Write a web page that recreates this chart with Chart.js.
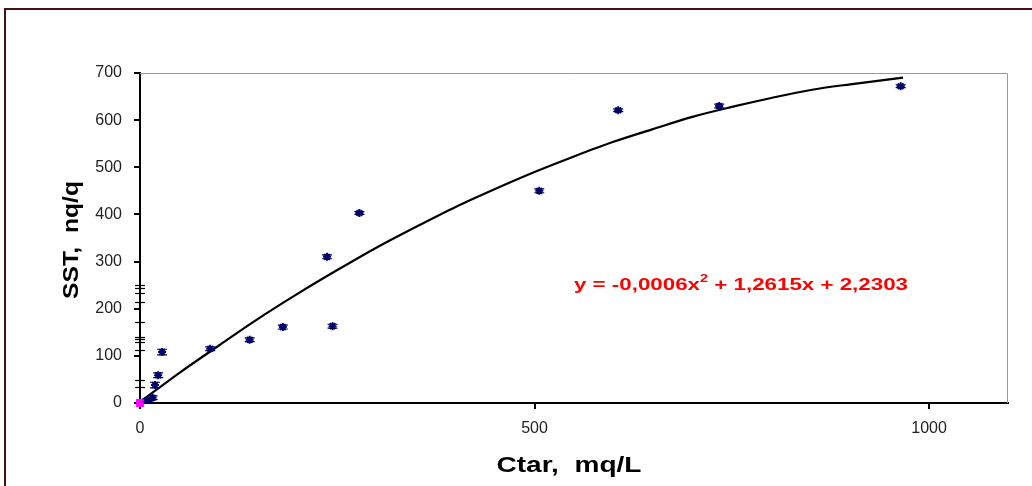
<!DOCTYPE html>
<html>
<head>
<meta charset="utf-8">
<script src="https://cdn.jsdelivr.net/npm/chart.js@4.4.0/dist/chart.umd.min.js"></script>
<style>
  html, body { margin: 0; padding: 0; background: #ffffff; }
  #wrap { width: 1032px; height: 486px; position: relative; }
  canvas { display: block; }
</style>
</head>
<body>
<div id="wrap"><canvas id="c" width="1032" height="486"></canvas></div>
<script>
// ---- data ----
const ctar = [964, 734, 606, 506, 278, 237, 244, 181, 139, 89, 28, 23, 19, 16, 9];
const sst  = [672, 630, 621, 450, 403, 310, 163, 161, 134, 115, 108, 59, 38, 11, 6];
const sstErr = [3, 4, 3, 4, 3, 4, 4, 4, 4, 4, 6, 5, 6, 4, 3];

// error-bar caps drawn on the value axis (points at Ctar ~ 0)
const zeroCaps = [250, 244, 233, 214, 172, 140, 136, 130, 112, 49, 34];

const originX = [0];
const originY = [0];

// trend line
const trendX = [0, 50, 100, 150, 200, 250, 300, 350, 400, 450, 500, 550, 600, 650, 700, 750, 800, 850, 900, 967];
const trendY = [2, 64, 122, 179, 232, 282, 330, 374, 416, 454, 490, 523, 554, 581, 607, 628, 647, 664, 676, 690];

const xTicks = [0, 500, 1000];
const yTicks = [0, 100, 200, 300, 400, 500, 600, 700];

const xTitle = 'Ctar,  mq/L';
const yTitle = 'SST,  nq/q';
const eqParts = ['y = -0,0006x', '2', ' + 1,2615x + 2,2303'];

// ---- helpers ----
function drawFitText(ctx, text, cx, cy, font, targetW, color) {
  ctx.save();
  ctx.font = font;
  const w = ctx.measureText(text).width;
  ctx.translate(cx, cy);
  ctx.scale(targetW / w, 1);
  ctx.fillStyle = color;
  ctx.textAlign = 'center';
  ctx.textBaseline = 'middle';
  ctx.fillText(text, 0, 0);
  ctx.restore();
}

const decor = {
  id: 'decor',
  beforeDraw(chart) {
    const ctx = chart.ctx;
    ctx.save();
    ctx.fillStyle = '#ffffff';
    ctx.fillRect(0, 0, chart.width, chart.height);
    // outer frame
    ctx.strokeStyle = '#4a1010';
    ctx.lineWidth = 2;
    ctx.beginPath();
    ctx.moveTo(5, 500);
    ctx.lineTo(5, 9);
    ctx.lineTo(1040, 9);
    ctx.stroke();
    ctx.restore();
  },
  beforeDatasetsDraw(chart) {
    const ctx = chart.ctx;
    const a = chart.chartArea;
    ctx.save();
    ctx.strokeStyle = '#9a9a9a';
    ctx.lineWidth = 1;
    ctx.beginPath();
    ctx.moveTo(a.left, a.top + 0.5);
    ctx.lineTo(a.right - 0.5, a.top + 0.5);
    ctx.lineTo(a.right - 0.5, a.bottom);
    ctx.stroke();
    ctx.restore();
  },
  afterDatasetsDraw(chart) {
    const ctx = chart.ctx;
    const xs = chart.scales.x, ys = chart.scales.y;
    ctx.save();
    ctx.strokeStyle = '#000050';
    ctx.lineWidth = 1.2;
    for (let i = 0; i < ctar.length; i++) {
      const px = xs.getPixelForValue(ctar[i]);
      const pLo = ys.getPixelForValue(sst[i] - sstErr[i]);
      const pHi = ys.getPixelForValue(sst[i] + sstErr[i]);
      ctx.beginPath();
      ctx.moveTo(px, pLo); ctx.lineTo(px, pHi);
      ctx.moveTo(px - 5, pLo); ctx.lineTo(px + 5, pLo);
      ctx.moveTo(px - 5, pHi); ctx.lineTo(px + 5, pHi);
      ctx.stroke();
    }
    ctx.strokeStyle = '#000000';
    const p0 = xs.getPixelForValue(0);
    zeroCaps.forEach(v => {
      const py = Math.round(ys.getPixelForValue(v)) + 0.5;
      ctx.beginPath();
      ctx.moveTo(p0 - 5, py); ctx.lineTo(p0 + 5, py);
      ctx.stroke();
    });
    ctx.restore();
  },
  afterDraw(chart) {
    const ctx = chart.ctx;
    drawFitText(ctx, xTitle, 569, 466, 'bold 22px "Liberation Sans", Arial, sans-serif', 145, '#000');
    ctx.save();
    ctx.translate(72, 240);
    ctx.rotate(-Math.PI / 2);
    drawFitText(ctx, yTitle, 0, 0, 'bold 22px "Liberation Sans", Arial, sans-serif', 118, '#000');
    ctx.restore();
    ctx.save();
    const f1 = 'bold 17px "Liberation Sans", Arial, sans-serif';
    const f2 = 'bold 11px "Liberation Sans", Arial, sans-serif';
    ctx.font = f1; const w0 = ctx.measureText(eqParts[0]).width;
    ctx.font = f2; const w1 = ctx.measureText(eqParts[1]).width;
    ctx.font = f1; const w2 = ctx.measureText(eqParts[2]).width;
    const total = w0 + w1 + w2;
    const target = 334;
    ctx.translate(574, 290);
    ctx.scale(target / total, 1);
    ctx.fillStyle = '#ff0000';
    ctx.textBaseline = 'alphabetic';
    ctx.textAlign = 'left';
    ctx.font = f1; ctx.fillText(eqParts[0], 0, 0);
    ctx.font = f2; ctx.fillText(eqParts[1], w0, -8);
    ctx.font = f1; ctx.fillText(eqParts[2], w0 + w1, 0);
    ctx.restore();
  }
};

new Chart(document.getElementById('c'), {
  type: 'scatter',
  data: {
    datasets: [
      {
        label: 'trend',
        data: trendX.map((x, i) => ({ x, y: trendY[i] })),
        showLine: true,
        borderColor: '#000000',
        borderWidth: 2.2,
        pointRadius: 0,
        cubicInterpolationMode: 'monotone',
        order: 2
      },
      {
        label: 'SST',
        data: ctar.map((x, i) => ({ x, y: sst[i] })),
        pointStyle: 'star',
        pointRadius: 4,
        borderColor: '#000080',
        backgroundColor: '#000080',
        borderWidth: 2,
        order: 1
      },
      {
        label: 'origin',
        data: originX.map((x, i) => ({ x, y: originY[i] })),
        pointStyle: 'rect',
        pointRadius: 5,
        borderColor: '#ff00ff',
        backgroundColor: '#ff00ff',
        borderWidth: 1,
        clip: false,
        order: 0
      }
    ]
  },
  plugins: [decor],
  options: {
    responsive: false,
    animation: false,
    events: [],
    layout: { padding: { left: 0, top: 73, right: 24, bottom: 0 } },
    plugins: { legend: { display: false }, tooltip: { enabled: false }, title: { display: false } },
    scales: {
      x: {
        type: 'linear',
        position: 'bottom',
        min: 0, max: 1100,
        afterBuildTicks: s => { s.ticks = xTicks.map(v => ({ value: v })); },
        afterFit: s => { s.height = 486 - 403; },
        grid: { drawOnChartArea: false, drawTicks: true, tickLength: 6, color: '#000', lineWidth: 2 },
        border: { display: true, color: '#000', width: 2 },
        ticks: { padding: 10, color: '#222', callback: v => String(v), font: { family: '"Liberation Sans", Arial, sans-serif', size: 16 }, maxRotation: 0 }
      },
      y: {
        type: 'linear',
        min: 0, max: 700,
        afterBuildTicks: s => { s.ticks = yTicks.map(v => ({ value: v })); },
        afterFit: s => { s.width = 140; },
        grid: { drawOnChartArea: false, drawTicks: true, tickLength: 6, color: '#000', lineWidth: 2 },
        border: { display: true, color: '#000', width: 2 },
        ticks: { padding: 12, color: '#222', callback: v => String(v), font: { family: '"Liberation Sans", Arial, sans-serif', size: 16 } }
      }
    }
  }
});
</script>
</body>
</html>
